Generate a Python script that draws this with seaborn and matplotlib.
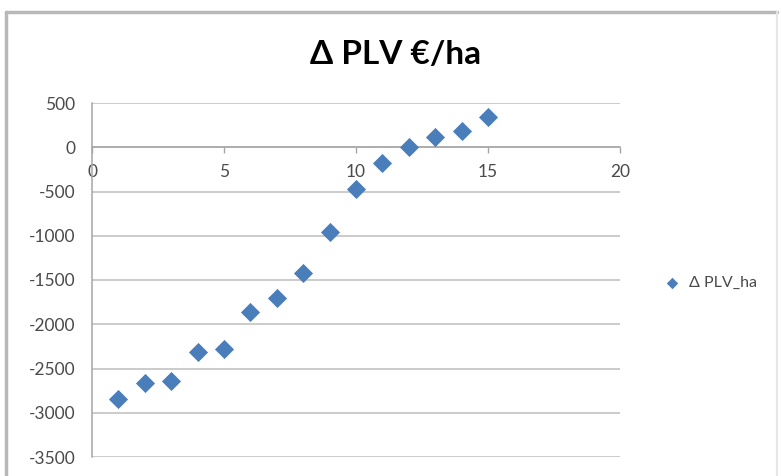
import matplotlib
matplotlib.use("Agg")
import matplotlib.pyplot as plt
from matplotlib.lines import Line2D
import seaborn as sns
import pandas as pd

# Data series
x_values = [1, 2, 3, 4, 5, 6, 7, 8, 9, 10, 11, 12, 13, 14, 15]
plv_ha = [-2850, -2660, -2640, -2315, -2280, -1860, -1705, -1420,
          -955, -470, -180, 0, 115, 185, 340]
x_ticks = [0, 5, 10, 15, 20]
y_ticks = [500, 0, -500, -1000, -1500, -2000, -2500, -3000, -3500]
title = "Δ PLV €/ha"
series_name = "Δ PLV_ha"

df = pd.DataFrame({"x": x_values, "y": plv_ha})

sns.set_theme(style="white")
plt.rcParams["font.family"] = ["Lato", "DejaVu Sans"]
plt.rcParams["axes.unicode_minus"] = False

W, H = 781, 476
fig = plt.figure(figsize=(W / 100, H / 100), dpi=100)
fig.patch.set_facecolor("white")

left, right, top, bottom = 92, 620, 103, 457
ax = fig.add_axes([left / W, 1 - bottom / H, (right - left) / W, (bottom - top) / H])

sns.scatterplot(data=df, x="x", y="y", marker="D", s=95, color="#4a7ebb",
                edgecolor="#4a7ebb", linewidth=0, label=series_name, ax=ax, zorder=3)

ax.set_xlim(0, 20)
ax.set_ylim(-3500, 500)
ax.set_xticks(x_ticks)
ax.set_yticks(y_ticks)
ax.set_xlabel("")
ax.set_ylabel("")

grid_c = "#bdbdbd"
ax.yaxis.grid(True, color=grid_c, linewidth=1.1)
ax.xaxis.grid(False)
ax.set_axisbelow(True)

for s in ["top", "right"]:
    ax.spines[s].set_visible(False)
ax.spines["left"].set_color("#a6a6a6")
ax.spines["left"].set_linewidth(1.1)
ax.spines["bottom"].set_position(("data", 0))
ax.spines["bottom"].set_color("#a6a6a6")
ax.spines["bottom"].set_linewidth(1.1)

label_c = "#4a4a4a"
ax.tick_params(axis="y", which="major", direction="out", length=5, width=1,
               color="#a6a6a6", labelsize=12.5, labelcolor=label_c, pad=7)
ax.tick_params(axis="x", which="major", direction="out", length=4, width=1,
               color="#a6a6a6", labelsize=12.5, labelcolor=label_c, pad=8,
               bottom=True)

fig.text(396 / W, 1 - 54 / H, title, ha="center", va="center",
         fontsize=24, fontweight="bold", color="black")

leg = ax.legend(loc="center left", bbox_to_anchor=(650 / W, 1 - 283 / H),
                bbox_transform=fig.transFigure, frameon=False, fontsize=11.5,
                handletextpad=0.05, markerscale=0.6, borderaxespad=0)
for t in leg.get_texts():
    t.set_color(label_c)

# Chart frame
frame_c = "#b8b8b8"
fig.add_artist(Line2D([6 / W, 777 / W], [1 - 12 / H, 1 - 12 / H],
                      transform=fig.transFigure, color=frame_c, linewidth=2.5))
fig.add_artist(Line2D([6 / W, 6 / W], [0, 1 - 12 / H],
                      transform=fig.transFigure, color=frame_c, linewidth=2.5))
fig.add_artist(Line2D([777 / W, 777 / W], [0, 1 - 12 / H],
                      transform=fig.transFigure, color="#e6e6e6", linewidth=1.5))

fig.savefig("out.png", dpi=100)
